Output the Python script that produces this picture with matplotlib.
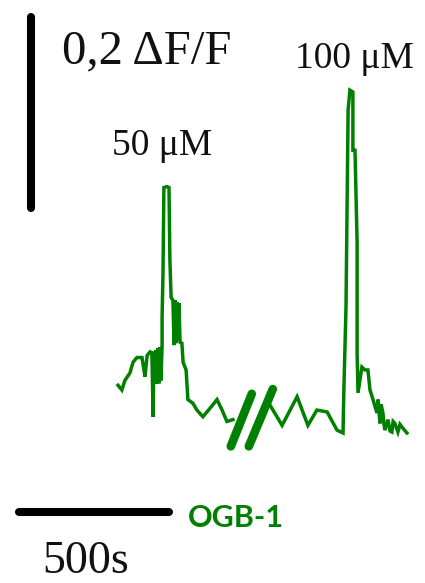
import matplotlib
matplotlib.use("Agg")
import matplotlib.pyplot as plt

# OGB-1 fluorescence trace, two applications separated by a time break
# time in s, response in dF/F
T_50 = [0, 13, 23, 40, 50, 63, 80, 83, 90, 97, 107, 113, 117, 120, 123, 127,
        130, 133, 137, 140, 143, 147, 147, 150, 153, 163, 170, 173, 177, 183,
        187, 190, 193, 197, 200, 203, 207, 213, 217, 227, 233, 250, 263, 283,
        307, 330, 347, 363, 383]
DF_50 = [0.050, 0.045, 0.055, 0.063, 0.074, 0.079, 0.079, 0.073, 0.059, 0.081,
         0.085, 0.084, 0.017, 0.085, 0.052, 0.087, 0.052, 0.089, 0.052, 0.090,
         0.055, 0.092, 0.121, 0.168, 0.257, 0.258, 0.257, 0.181, 0.142, 0.139,
         0.092, 0.139, 0.094, 0.137, 0.097, 0.136, 0.095, 0.094, 0.074, 0.066,
         0.035, 0.031, 0.024, 0.017, 0.026, 0.035, 0.024, 0.012, 0.014]

T_100 = [507, 547, 597, 633, 663, 697, 730, 750, 753, 760, 767, 773, 783, 783,
         790, 797, 797, 800, 813, 823, 833, 840, 850, 863, 867, 873, 877, 883,
         887, 890, 900, 907, 913, 917, 923, 933, 940, 947, 963]
DF_100 = [0.029, 0.008, 0.038, 0.008, 0.024, 0.022, 0.003, 0.000, 0.047, 0.132,
          0.338, 0.359, 0.357, 0.296, 0.296, 0.199, 0.084, 0.042, 0.069, 0.066,
          0.066, 0.045, 0.035, 0.021, 0.035, 0.010, 0.030, 0.021, 0.008, 0.003,
          0.014, 0.002, 0.001, 0.012, 0.010, 0.001, 0.009, 0.006, 0.000]

# axis-break slashes (t0, t1, dF0, dF1)
BREAKS = [(376, 446, -0.014, 0.041), (436, 516, -0.014, 0.046)]

# scale bars
SCALE_T = 500      # s
SCALE_DF = 0.2     # dF/F

GREEN = "#008000"
SERIF = "Liberation Serif"

fig = plt.figure(figsize=(4.25, 5.83), dpi=100)
ax = fig.add_axes([0, 0, 1, 1])
ax.set_xlim(-393.3, 1023.3)
ax.set_ylim(-0.1571, 0.4534)
ax.axis("off")

ax.plot(T_50, DF_50, color=GREEN, lw=2.5, solid_joinstyle="miter")
ax.plot(T_100, DF_100, color=GREEN, lw=2.5, solid_joinstyle="miter")

for t0, t1, y0, y1 in BREAKS:
    ax.plot([t0, t1], [y0, y1], color=GREEN, lw=6.2, solid_capstyle="round")

# vertical bar: 0.2 dF/F
ax.plot([-290, -290], [0.2356, 0.2356 + SCALE_DF], color="black", lw=5.8,
        solid_capstyle="round")
# horizontal bar: 500 s
ax.plot([-330, -330 + SCALE_T], [-0.0827, -0.0827], color="black", lw=5.8,
        solid_capstyle="round")

ax.text(-187, 0.387, "0,2 \u0394F/F", family=SERIF, fontsize=35,
        color="#111111", ha="left", va="baseline")
ax.text(590, 0.382, "100 \u03bcM", family=SERIF, fontsize=27,
        color="#111111", ha="left", va="baseline")
ax.text(-20, 0.291, "50 \u03bcM", family=SERIF, fontsize=27,
        color="#111111", ha="left", va="baseline")
ax.text(-253, -0.147, "500s", family=SERIF, fontsize=33,
        color="#111111", ha="left", va="baseline")
ax.text(233, -0.098, "OGB-1", family="Lato", fontweight="bold", fontsize=22,
        color=GREEN, ha="left", va="baseline")

fig.savefig("out.png", dpi=100)
